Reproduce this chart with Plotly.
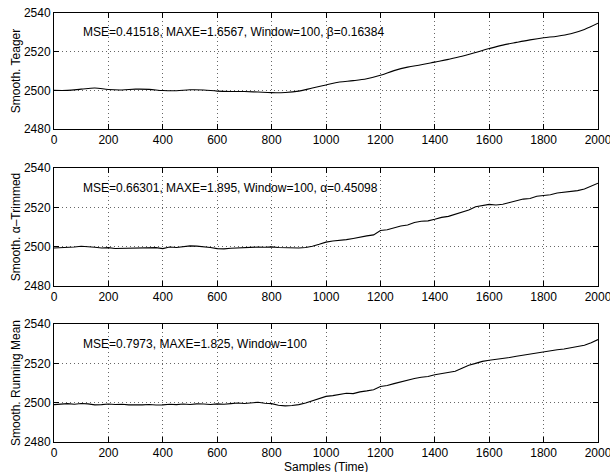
import plotly.graph_objects as go
from plotly.subplots import make_subplots

# ---- data ----
x_teager = list(range(0, 2001, 50))
teager = [2500.0, 2500.0, 2500.6, 2501.2, 2500.4, 2500.2, 2500.6, 2500.5, 2499.9, 2499.8,
          2500.3, 2500.2, 2499.6, 2499.4, 2499.4, 2499.1, 2498.8, 2498.9, 2499.6, 2501.2,
          2502.8, 2504.3, 2505.0, 2506.0, 2507.8, 2510.2, 2512.0, 2513.2, 2514.6, 2516.0,
          2517.6, 2519.6, 2521.6, 2523.4, 2524.8, 2526.1, 2527.2, 2528.0, 2529.3, 2531.5,
          2534.7]

x_dense = list(range(0, 2001, 25))
alpha_trimmed = [2499.3, 2499.4, 2499.5, 2499.8, 2500.2, 2500.1, 2499.7, 2499.3, 2499.5, 2499.1,
                 2499.2, 2499.0, 2499.1, 2499.3, 2499.4, 2499.5, 2499.0, 2499.8, 2499.6, 2500.1,
                 2500.4, 2500.3, 2500.1, 2499.6, 2499.0, 2498.9, 2499.2, 2499.4, 2499.6, 2499.5,
                 2499.8, 2499.7, 2499.9, 2499.6, 2499.4, 2499.2, 2499.3, 2499.6, 2500.2, 2501.2,
                 2502.3, 2502.9, 2503.1, 2503.6, 2504.2, 2505.0, 2505.5, 2506.0, 2508.2, 2508.6,
                 2509.6, 2510.5, 2511.0, 2512.3, 2512.9, 2513.1, 2513.9, 2514.9, 2515.4, 2516.4,
                 2517.6, 2518.6, 2520.3, 2521.0, 2521.5, 2521.2, 2521.6, 2522.5, 2523.3, 2524.2,
                 2524.5, 2525.6, 2526.0, 2526.4, 2527.3, 2527.6, 2528.0, 2528.5, 2529.3, 2530.8,
                 2532.3]
running_mean = [2499.0, 2499.3, 2499.5, 2499.2, 2499.6, 2499.4, 2498.9, 2499.0, 2499.3, 2499.1,
                2499.2, 2498.9, 2498.8, 2498.9, 2499.1, 2498.8, 2498.9, 2499.2, 2499.0, 2499.3,
                2499.1, 2499.4, 2499.3, 2499.1, 2499.4, 2499.2, 2499.5, 2499.8, 2499.6, 2499.9,
                2500.2, 2499.7, 2499.5, 2498.7, 2498.4, 2498.6, 2499.0, 2499.8, 2500.9, 2502.0,
                2503.2, 2503.6, 2504.2, 2504.8, 2504.6, 2505.5, 2506.0, 2506.6, 2508.2, 2508.7,
                2509.7, 2510.6, 2511.2, 2512.3, 2512.9, 2513.3, 2514.2, 2514.8, 2515.5, 2516.0,
                2517.5, 2519.0, 2520.0, 2521.0, 2521.6, 2522.0, 2522.4, 2523.0, 2523.6, 2524.2,
                2524.8, 2525.4, 2526.0, 2526.5, 2526.9, 2527.3, 2527.9, 2528.4, 2529.2, 2530.5,
                2532.1]

y_labels = ["Smooth. Teager", "Smooth. \u03b1\u2013Trimmed", "Smooth. Running Mean"]
notes = ["MSE=0.41518, MAXE=1.6567, Window=100, \u03b2=0.16384",
         "MSE=0.66301, MAXE=1.895, Window=100, \u03b1=0.45098",
         "MSE=0.7973, MAXE=1.825, Window=100"]
x_ticks = list(range(0, 2001, 200))
y_ticks = [2480, 2500, 2520, 2540]
x_title = "Samples (Time)"

FONT = "Liberation Sans, Arial, sans-serif"

fig = make_subplots(rows=3, cols=1, shared_xaxes=False, vertical_spacing=0.08)

series = [(x_teager, teager, "spline"), (x_dense, alpha_trimmed, "linear"), (x_dense, running_mean, "linear")]
for i, (xs, ys, shape) in enumerate(series):
    fig.add_trace(go.Scatter(x=xs, y=ys, mode="lines", line=dict(color="black", width=1.1, shape=shape),
                             showlegend=False), row=i + 1, col=1)

domains = [[0.7296, 1.0], [0.3636, 0.6387], [0.0, 0.2750]]
for i in range(3):
    xa = "xaxis" if i == 0 else f"xaxis{i+1}"
    ya = "yaxis" if i == 0 else f"yaxis{i+1}"
    common = dict(showline=True, linecolor="black", linewidth=1, mirror="ticks",
                  ticks="inside", ticklen=5, tickcolor="black", showgrid=True,
                  gridcolor="#666666", griddash="1px,3px", gridwidth=1, zeroline=False,
                  tickfont=dict(family=FONT, size=12, color="black"),
                  ticklabeloverflow="allow", automargin=False)
    fig.layout[xa].update(range=[0, 2000], tickvals=x_ticks, ticktext=[str(v) for v in x_ticks],
                          **common)
    fig.layout[ya].update(range=[2480, 2540], tickvals=y_ticks, domain=domains[i],
                          title=dict(text=y_labels[i], font=dict(family=FONT, size=12, color="black"), standoff=0),
                          **common)
    fig.add_annotation(x=100, y=2530, xref=f"x{'' if i == 0 else i+1}", yref=f"y{'' if i == 0 else i+1}",
                       text=notes[i], showarrow=False, xanchor="left", yanchor="middle",
                       font=dict(family=FONT, size=12, color="black"))

# x-axis title of the bottom panel, placed just under its tick labels
fig.add_annotation(x=0.5, y=0, xref="paper", yref="paper", text=x_title, showarrow=False,
                   xanchor="center", yanchor="middle", yshift=-25,
                   font=dict(family=FONT, size=12, color="black"))

fig.update_layout(width=610, height=472, margin=dict(l=54, r=12, t=13, b=30),
                  paper_bgcolor="white", plot_bgcolor="white",
                  font=dict(family=FONT, size=12, color="black"))

fig.write_html("out.html", config={"displayModeBar": False},
               post_script="document.body.style.margin='0px';")
